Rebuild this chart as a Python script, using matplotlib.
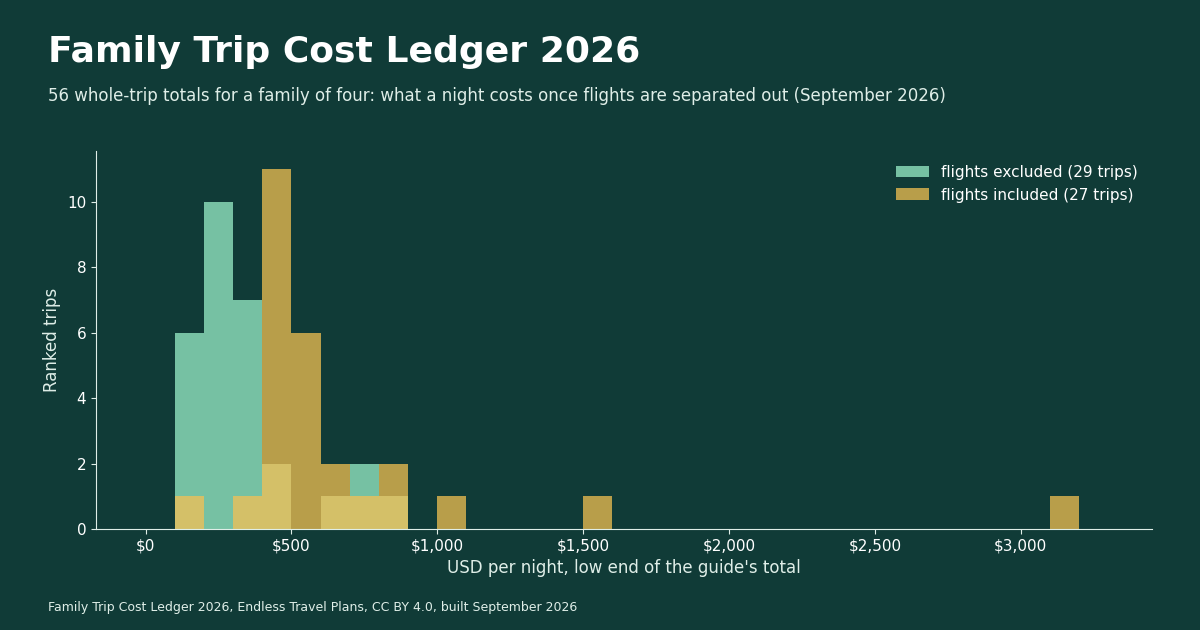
import matplotlib
matplotlib.use("Agg")
import matplotlib.pyplot as plt
import numpy as np

bin_left = [100, 200, 300, 400, 500, 600, 700, 800, 1000, 1500, 3100]
excluded = [6, 10, 7, 2, 0, 1, 2, 1, 0, 0, 0]
included = [1, 0, 1, 11, 6, 2, 1, 2, 1, 1, 1]
bin_width = 100

BG = "#103b37"
TEAL = "#76c1a3"
GOLD = "#b89e4a"
BLEND = "#d4c068"
TXT = "#dfeee8"

fig = plt.figure(figsize=(12, 6.3), dpi=100, facecolor=BG)
ax = fig.add_axes([0.08, 0.16, 0.88, 0.6])
ax.set_facecolor(BG)

x = np.array(bin_left)
ex = np.array(excluded); inc = np.array(included)
ax.bar(x, ex, width=bin_width, align="edge", color=TEAL, label="flights excluded (29 trips)")
ax.bar(x, inc, width=bin_width, align="edge", color=GOLD, label="flights included (27 trips)")
ax.bar(x, np.minimum(ex, inc), width=bin_width, align="edge", color=BLEND)

ax.set_xlim(-170, 3450)
ax.set_ylim(0, 11.55)
ax.set_xticks([0, 500, 1000, 1500, 2000, 2500, 3000])
ax.set_xticklabels(["$0", "$500", "$1,000", "$1,500", "$2,000", "$2,500", "$3,000"])
ax.set_yticks([0, 2, 4, 6, 8, 10])
for s in ["top", "right"]:
    ax.spines[s].set_visible(False)
for s in ["left", "bottom"]:
    ax.spines[s].set_color(TXT)
ax.tick_params(colors=TXT, labelsize=11)
for lab in ax.get_xticklabels() + ax.get_yticklabels():
    lab.set_color("white")
ax.set_xlabel("USD per night, low end of the guide's total", color=TXT, fontsize=12)
ax.set_ylabel("Ranked trips", color=TXT, fontsize=12)

leg = ax.legend(loc="upper right", frameon=False, fontsize=11, labelcolor="white",
                handlelength=2.2, handleheight=0.8)

fig.text(0.04, 0.918, "Family Trip Cost Ledger 2026", color="white", fontsize=26, fontweight="bold", va="center")
fig.text(0.04, 0.848, "56 whole-trip totals for a family of four: what a night costs once flights are separated out (September 2026)",
         color=TXT, fontsize=12, va="center")
fig.text(0.04, 0.036, "Family Trip Cost Ledger 2026, Endless Travel Plans, CC BY 4.0, built September 2026",
         color=TXT, fontsize=9, va="center")

fig.savefig("out.png", facecolor=BG)
